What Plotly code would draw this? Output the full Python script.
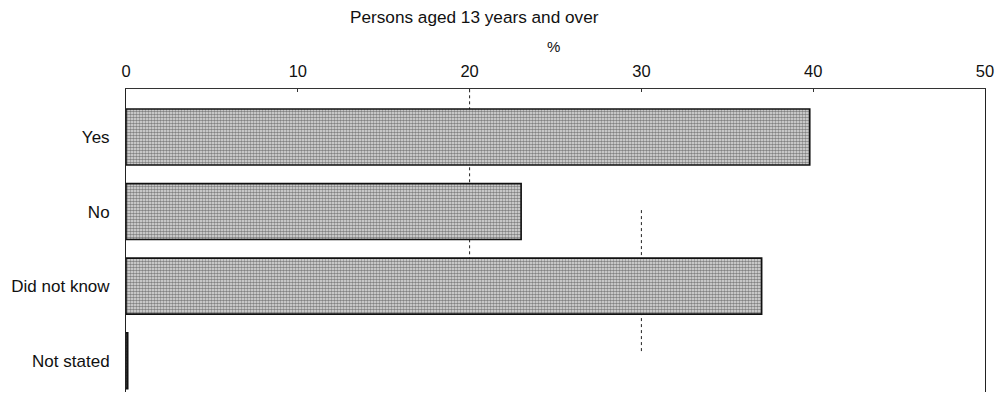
import plotly.graph_objects as go

# Survey responses, persons aged 13 years and over (%)
categories = ["Yes", "No", "Did not know", "Not stated"]
percent = [39.8, 23.0, 37.0, 0.1]
tick_values = [0, 10, 20, 30, 40, 50]
tick_labels = ["0", "10", "20", "30", "40", "50"]

FONT = "Liberation Sans, Arial, Helvetica, sans-serif"

fig = go.Figure()

fig.add_trace(go.Bar(
    x=percent,
    y=categories,
    orientation="h",
    width=0.75,
    marker=dict(
        color="white",
        line=dict(color="#111111", width=1.6),
        pattern=dict(shape=".", fgcolor="#1e1e1e", bgcolor="#e6e6e6",
                     size=3, solidity=0.6),
    ),
    hoverinfo="x+y",
    showlegend=False,
))

# dotted reference lines at 20 and 30
fig.add_shape(type="line", xref="x", yref="y", x0=20, x1=20, y0=-0.64, y1=1.62,
              line=dict(color="#222", width=1, dash="dot"), layer="below")
fig.add_shape(type="line", xref="x", yref="y", x0=30, x1=30, y0=0.98, y1=2.9,
              line=dict(color="#222", width=1, dash="dot"), layer="below")

fig.update_layout(
    width=999, height=405,
    margin=dict(l=126, r=14, t=89, b=13, autoexpand=False),
    paper_bgcolor="white", plot_bgcolor="white",
    font=dict(family=FONT, size=17, color="#111111"),
    bargap=0.25,
    xaxis=dict(
        side="top",
        range=[0, 50],
        automargin=False,
        tickvals=tick_values,
        ticktext=tick_labels,
        showgrid=False,
        zeroline=False,
        showline=True, linecolor="#333", linewidth=1,
        ticks="inside", ticklen=3, tickcolor="#333",
        ticklabelstandoff=4,
        tickfont=dict(size=16.5),
    ),
    yaxis=dict(
        categoryorder="array",
        categoryarray=categories,
        range=[3.42, -0.644],
        automargin=False,
        showgrid=False,
        zeroline=False,
        showline=True, mirror=True, linecolor="#222", linewidth=1,
        ticks="",
        ticklabelstandoff=12,
        tickfont=dict(size=17),
    ),
    annotations=[
        dict(text="Persons aged 13 years and over", xref="paper", yref="paper",
             x=(474 - 126) / (999 - 126 - 14), y=1 + (89 - 17) / (405 - 89 - 13),
             showarrow=False, xanchor="center", yanchor="middle",
             font=dict(size=17.2)),
        dict(text="%", xref="paper", yref="paper",
             x=(553 - 126) / (999 - 126 - 14), y=1 + (89 - 47) / (405 - 89 - 13),
             showarrow=False, xanchor="center", yanchor="middle",
             font=dict(size=15)),
    ],
)

fig.write_html("out.html")
